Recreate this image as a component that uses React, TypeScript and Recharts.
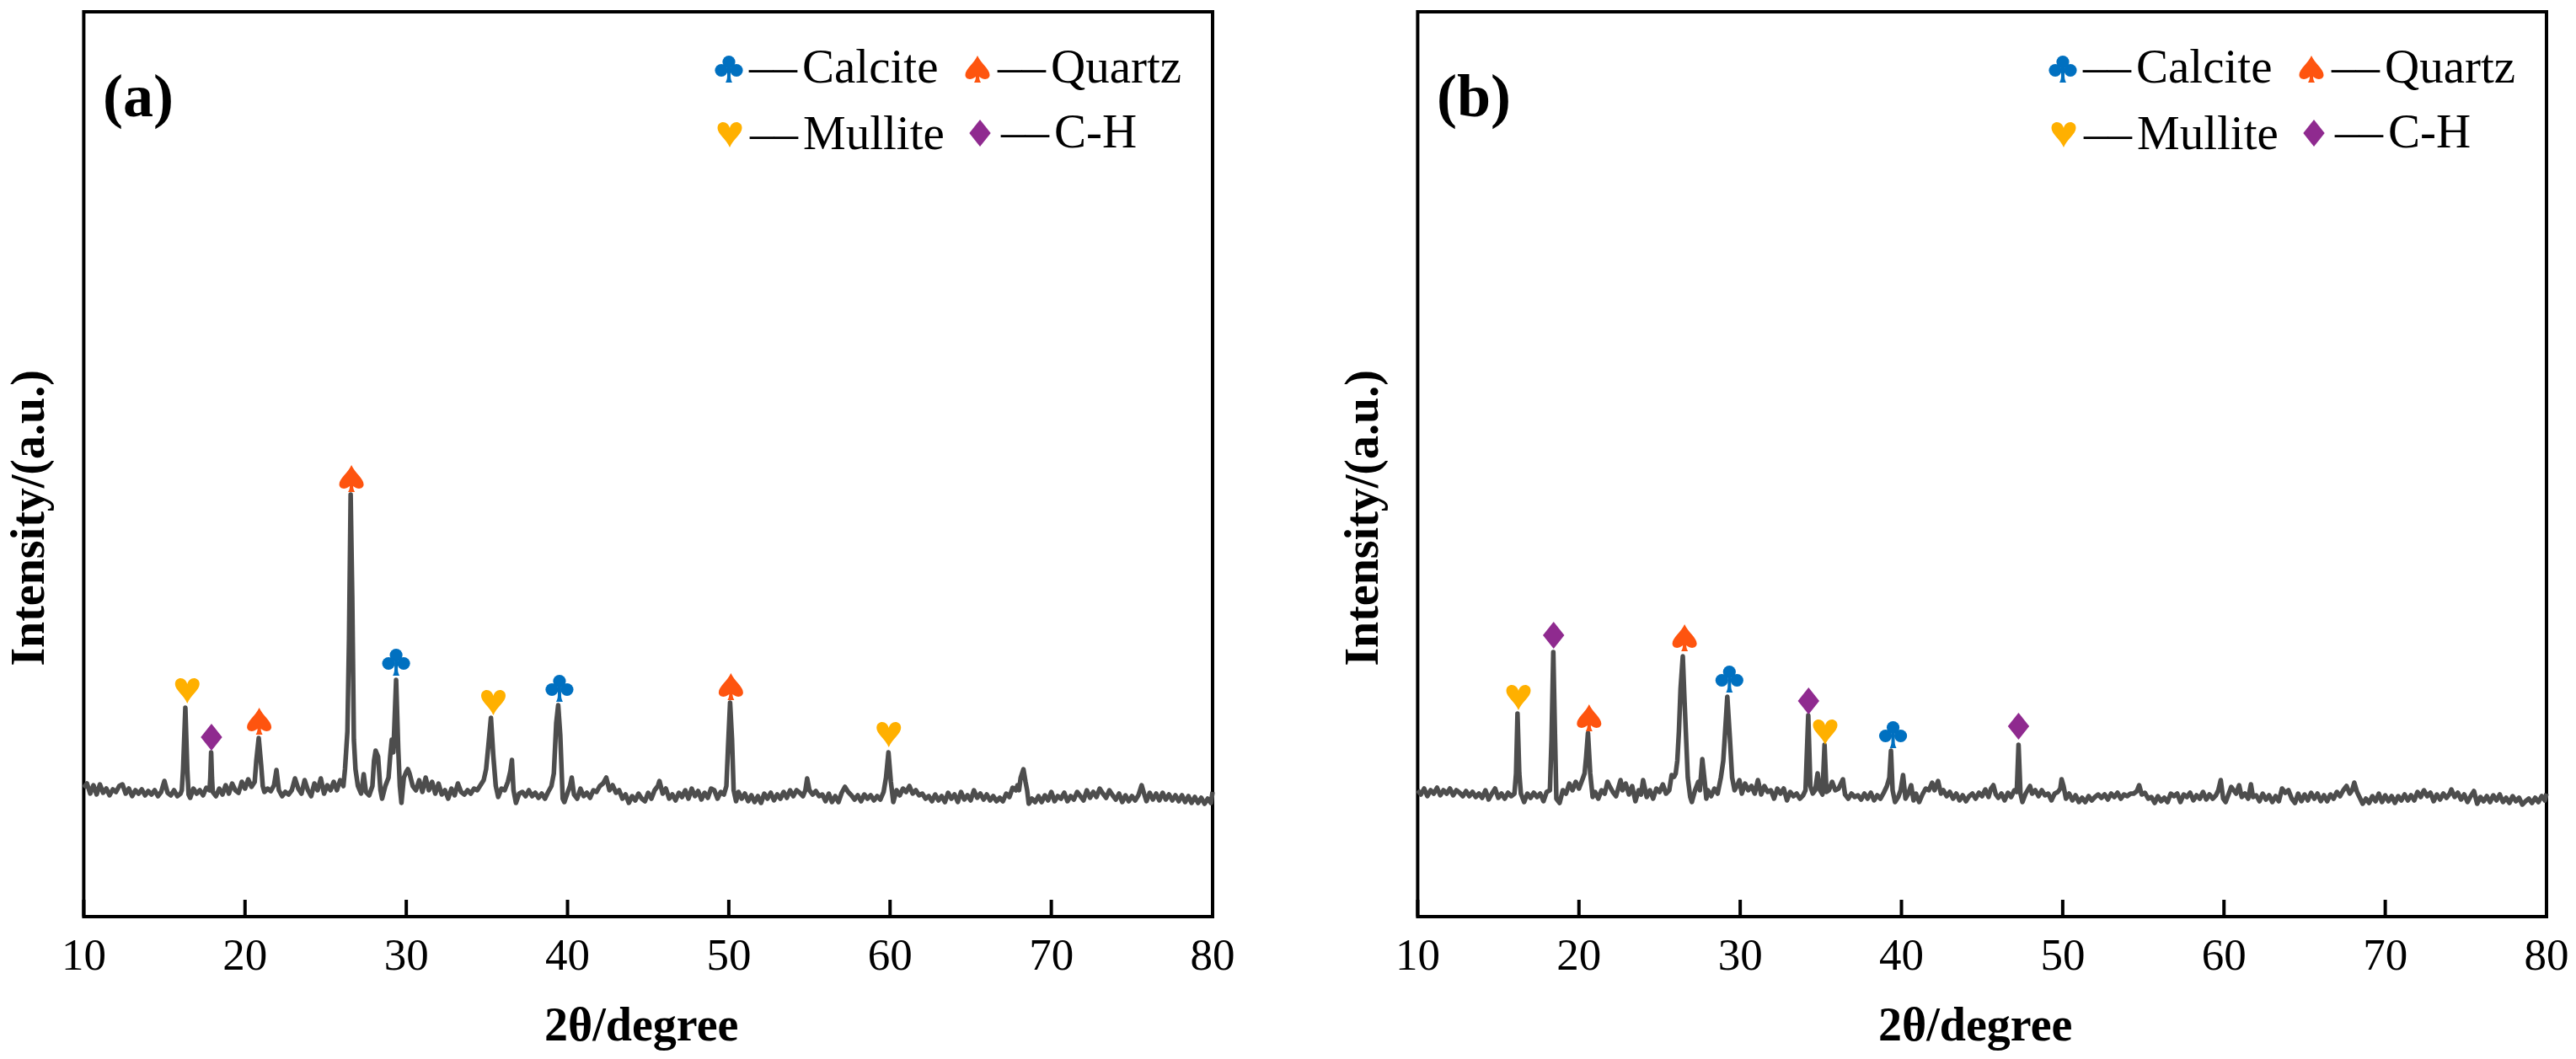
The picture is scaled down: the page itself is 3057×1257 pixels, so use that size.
import { ComposedChart, Line, ReferenceArea, Scatter, XAxis, YAxis } from 'recharts';

const thetaA = [
	10.0, 10.2, 10.4, 10.6, 10.8, 11.0, 11.2, 11.4, 11.6, 11.8,
	12.0, 12.2, 12.4, 12.6, 12.8, 13.0, 13.2, 13.4, 13.6, 13.8,
	14.0, 14.2, 14.4, 14.6, 14.8, 15.0, 15.2, 15.4, 15.6, 15.8,
	16.0, 16.08, 16.16, 16.3, 16.42, 16.5, 16.6, 16.8, 17.0, 17.2,
	17.4, 17.6, 17.8, 17.85, 17.9, 17.95, 18.0, 18.2, 18.4, 18.6,
	18.8, 19.0, 19.2, 19.4, 19.6, 19.8, 20.0, 20.2, 20.4, 20.6,
	20.7, 20.85, 21.0, 21.1, 21.2, 21.4, 21.6, 21.8, 21.95, 22.1,
	22.3, 22.5, 22.7, 22.9, 23.1, 23.3, 23.5, 23.7, 23.9, 24.1,
	24.3, 24.5, 24.7, 24.9, 25.1, 25.3, 25.5, 25.7, 25.9, 26.1,
	26.2, 26.35, 26.45, 26.55, 26.65, 26.75, 26.85, 27.0, 27.2, 27.36,
	27.5, 27.7, 27.9, 28.0, 28.1, 28.25, 28.4, 28.5, 28.7, 28.9,
	29.0, 29.1, 29.2, 29.37, 29.5, 29.6, 29.7, 29.85, 30.0, 30.1,
	30.2, 30.4, 30.6, 30.8, 31.0, 31.2, 31.4, 31.6, 31.8, 32.0,
	32.2, 32.4, 32.6, 32.8, 33.0, 33.2, 33.4, 33.6, 33.8, 34.0,
	34.2, 34.4, 34.6, 34.8, 34.95, 35.1, 35.25, 35.4, 35.55, 35.7,
	35.9, 36.1, 36.3, 36.45, 36.55, 36.65, 36.8, 37.0, 37.2, 37.4,
	37.6, 37.8, 38.0, 38.2, 38.4, 38.6, 38.8, 39.0, 39.15, 39.3,
	39.42, 39.55, 39.7, 39.8, 40.0, 40.15, 40.26, 40.4, 40.6, 40.8,
	41.0, 41.2, 41.4, 41.6, 41.8, 42.0, 42.2, 42.4, 42.6, 42.8,
	43.0, 43.2, 43.4, 43.6, 43.8, 44.0, 44.2, 44.4, 44.6, 44.8,
	45.0, 45.2, 45.4, 45.6, 45.7, 45.9, 46.1, 46.3, 46.5, 46.7,
	46.9, 47.1, 47.3, 47.5, 47.7, 47.9, 48.1, 48.3, 48.5, 48.7,
	48.9, 49.1, 49.3, 49.5, 49.7, 49.85, 49.95, 50.08, 50.2, 50.3,
	50.45, 50.6, 50.8, 51.0, 51.2, 51.4, 51.6, 51.8, 52.0, 52.2,
	52.4, 52.6, 52.8, 53.0, 53.2, 53.4, 53.6, 53.8, 54.0, 54.2,
	54.4, 54.6, 54.75, 54.86, 55.0, 55.2, 55.4, 55.6, 55.8, 56.0,
	56.2, 56.4, 56.6, 56.8, 57.0, 57.2, 57.4, 57.6, 57.8, 58.0,
	58.2, 58.4, 58.6, 58.8, 59.0, 59.2, 59.4, 59.6, 59.75, 59.9,
	60.05, 60.2, 60.4, 60.6, 60.8, 61.0, 61.2, 61.4, 61.6, 61.8,
	62.0, 62.2, 62.4, 62.6, 62.8, 63.0, 63.2, 63.4, 63.6, 63.8,
	64.0, 64.2, 64.4, 64.6, 64.8, 65.0, 65.2, 65.4, 65.6, 65.8,
	66.0, 66.2, 66.4, 66.6, 66.8, 67.0, 67.2, 67.4, 67.6, 67.8,
	67.9, 68.0, 68.1, 68.27, 68.4, 68.5, 68.6, 68.8, 69.0, 69.2,
	69.4, 69.6, 69.8, 70.0, 70.2, 70.4, 70.6, 70.8, 71.0, 71.2,
	71.4, 71.6, 71.8, 72.0, 72.2, 72.4, 72.6, 72.8, 73.0, 73.2,
	73.4, 73.6, 73.8, 74.0, 74.2, 74.4, 74.6, 74.8, 75.0, 75.2,
	75.4, 75.6, 75.75, 75.9, 76.1, 76.3, 76.5, 76.7, 76.9, 77.1,
	77.3, 77.5, 77.7, 77.9, 78.1, 78.3, 78.5, 78.7, 78.9, 79.1,
	79.3, 79.5, 79.7, 79.9, 80.0,
];
const intensityA = [
	153, 158, 146, 156, 145, 157, 147, 152, 144, 151,
	148, 155, 157, 146, 152, 143, 150, 146, 151, 144,
	149, 145, 150, 143, 148, 161, 147, 144, 150, 143,
	146, 150, 175, 248, 175, 145, 141, 152, 146, 150,
	144, 153, 150, 165, 195, 165, 148, 143, 152, 145,
	156, 146, 158, 150, 147, 160, 152, 163, 154, 160,
	185, 212, 180, 155, 148, 152, 149, 156, 174, 150,
	143, 148, 145, 150, 164, 152, 146, 162, 150, 143,
	158, 150, 164, 146, 156, 150, 160, 150, 162, 155,
	175, 220, 330, 501, 380, 210, 175, 155, 146, 169,
	148, 144, 155, 185, 197, 190, 150, 140, 155, 165,
	190, 210, 195, 281, 200, 155, 135, 165, 172, 175,
	170, 155, 150, 162, 148, 165, 150, 160, 146, 158,
	145, 150, 140, 152, 144, 158, 148, 145, 150, 146,
	152, 150, 156, 162, 175, 205, 236, 190, 155, 142,
	152, 150, 160, 172, 186, 150, 135, 146, 148, 143,
	150, 143, 147, 141, 146, 140, 148, 155, 170, 230,
	251, 215, 140, 136, 147, 155, 165, 145, 140, 152,
	143, 147, 141, 150, 148, 155, 158, 165, 150, 156,
	147, 150, 140, 145, 135, 143, 138, 146, 140, 137,
	147, 140, 150, 155, 161, 146, 152, 140, 145, 138,
	147, 142, 150, 140, 152, 143, 149, 139, 147, 141,
	152, 150, 140, 148, 145, 155, 200, 254, 210, 150,
	137, 148, 140, 146, 137, 144, 136, 143, 135, 146,
	140, 147, 138, 145, 140, 148, 141, 150, 143, 150,
	147, 143, 150, 164, 150, 145, 149, 143, 145, 137,
	146, 136, 143, 136, 147, 154, 148, 144, 139, 144,
	137, 145, 140, 144, 138, 143, 139, 148, 165, 195,
	160, 136, 150, 144, 152, 148, 155, 146, 150, 144,
	146, 140, 143, 137, 145, 138, 143, 136, 147, 140,
	145, 136, 148, 139, 144, 138, 150, 141, 146, 139,
	145, 138, 143, 137, 141, 137, 146, 142, 153, 150,
	156, 150, 165, 175, 160, 150, 134, 140, 136, 143,
	136, 144, 138, 148, 137, 143, 140, 147, 137, 143,
	139, 148, 143, 138, 150, 141, 148, 142, 152, 146,
	141, 150, 144, 139, 146, 136, 144, 137, 143, 138,
	144, 156, 146, 137, 147, 139, 146, 138, 147, 139,
	145, 138, 144, 137, 144, 136, 143, 135, 142, 135,
	141, 134, 140, 135, 148,
];

const thetaB = [
	10.0, 10.2, 10.4, 10.6, 10.8, 11.0, 11.2, 11.4, 11.6, 11.8,
	12.0, 12.2, 12.4, 12.6, 12.8, 13.0, 13.2, 13.4, 13.6, 13.8,
	14.0, 14.2, 14.4, 14.6, 14.8, 15.0, 15.2, 15.4, 15.6, 15.8,
	16.0, 16.1, 16.19, 16.3, 16.4, 16.6, 16.8, 17.0, 17.2, 17.4,
	17.6, 17.8, 18.0, 18.2, 18.3, 18.41, 18.52, 18.6, 18.8, 19.0,
	19.2, 19.4, 19.6, 19.8, 20.0, 20.2, 20.35, 20.45, 20.56, 20.7,
	20.85, 21.0, 21.2, 21.4, 21.6, 21.77, 21.9, 22.1, 22.3, 22.58,
	22.7, 22.9, 23.1, 23.3, 23.5, 23.7, 23.85, 23.98, 24.2, 24.4,
	24.6, 24.8, 25.0, 25.2, 25.4, 25.6, 25.75, 25.9, 26.0, 26.1,
	26.2, 26.3, 26.44, 26.55, 26.65, 26.75, 26.9, 27.0, 27.2, 27.4,
	27.5, 27.65, 27.8, 27.9, 28.0, 28.2, 28.4, 28.6, 28.8, 28.95,
	29.05, 29.2, 29.35, 29.5, 29.65, 29.8, 29.95, 30.1, 30.3, 30.5,
	30.7, 30.9, 31.1, 31.3, 31.5, 31.7, 31.9, 32.1, 32.3, 32.5,
	32.7, 32.9, 33.1, 33.3, 33.5, 33.7, 33.9, 34.05, 34.22, 34.35,
	34.5, 34.65, 34.8, 34.95, 35.1, 35.23, 35.35, 35.5, 35.7, 35.9,
	36.1, 36.37, 36.5, 36.7, 36.9, 37.1, 37.3, 37.5, 37.7, 37.9,
	38.1, 38.3, 38.5, 38.7, 38.9, 39.1, 39.25, 39.35, 39.45, 39.6,
	39.8, 39.95, 40.1, 40.25, 40.4, 40.6, 40.75, 40.9, 41.1, 41.3,
	41.5, 41.7, 41.9, 42.05, 42.27, 42.45, 42.6, 42.8, 43.0, 43.2,
	43.4, 43.6, 43.8, 44.0, 44.2, 44.4, 44.6, 44.8, 45.0, 45.2,
	45.4, 45.55, 45.7, 45.85, 46.0, 46.2, 46.4, 46.6, 46.8, 47.0,
	47.15, 47.26, 47.38, 47.5, 47.7, 47.97, 48.1, 48.3, 48.5, 48.7,
	48.9, 49.1, 49.3, 49.5, 49.7, 49.85, 49.93, 50.05, 50.2, 50.4,
	50.6, 50.8, 51.0, 51.2, 51.4, 51.6, 51.8, 52.0, 52.2, 52.4,
	52.6, 52.8, 53.0, 53.2, 53.4, 53.6, 53.8, 54.0, 54.2, 54.4,
	54.6, 54.74, 54.9, 55.1, 55.3, 55.5, 55.7, 55.9, 56.1, 56.3,
	56.5, 56.7, 56.9, 57.1, 57.3, 57.5, 57.7, 57.9, 58.1, 58.3,
	58.5, 58.7, 58.9, 59.1, 59.3, 59.5, 59.65, 59.8, 59.95, 60.1,
	60.3, 60.45, 60.6, 60.75, 60.94, 61.1, 61.3, 61.5, 61.67, 61.8,
	62.0, 62.2, 62.4, 62.6, 62.8, 63.0, 63.2, 63.4, 63.6, 63.8,
	64.0, 64.2, 64.4, 64.6, 64.8, 65.0, 65.2, 65.4, 65.6, 65.8,
	66.0, 66.2, 66.4, 66.6, 66.8, 67.0, 67.2, 67.4, 67.6, 67.8,
	67.95, 68.08, 68.25, 68.4, 68.6, 68.8, 69.0, 69.2, 69.4, 69.6,
	69.8, 70.0, 70.2, 70.4, 70.6, 70.8, 71.0, 71.2, 71.4, 71.6,
	71.8, 72.0, 72.2, 72.4, 72.6, 72.8, 73.0, 73.2, 73.4, 73.6,
	73.8, 74.0, 74.1, 74.3, 74.5, 74.7, 74.9, 75.1, 75.3, 75.5,
	75.7, 75.9, 76.1, 76.3, 76.5, 76.7, 76.9, 77.1, 77.3, 77.5,
	77.7, 77.9, 78.1, 78.3, 78.5, 78.7, 78.9, 79.1, 79.3, 79.5,
	79.7, 79.9, 80.0,
];
const intensityB = [
	150, 145, 152, 143, 150, 146, 153, 144, 150, 146,
	152, 144, 150, 147, 143, 149, 143, 148, 142, 146,
	141, 150, 139, 146, 152, 141, 146, 140, 147, 143,
	146, 170, 241, 170, 146, 136, 146, 141, 147, 142,
	146, 137, 148, 150, 210, 314, 210, 140, 135, 150,
	146, 158, 150, 160, 152, 162, 170, 190, 218, 170,
	142, 148, 140, 150, 146, 160, 155, 148, 143, 162,
	150, 158, 145, 155, 137, 150, 145, 162, 142, 150,
	140, 152, 148, 157, 146, 150, 168, 166, 170, 185,
	220, 270, 309, 255, 210, 165, 142, 136, 150, 160,
	150, 187, 160, 140, 150, 143, 152, 146, 165, 185,
	215, 261, 215, 165, 150, 155, 162, 146, 158, 150,
	155, 146, 162, 145, 155, 148, 150, 140, 152, 146,
	152, 138, 148, 143, 146, 140, 144, 150, 239, 155,
	146, 150, 170, 150, 145, 204, 148, 150, 160, 150,
	152, 163, 145, 140, 146, 142, 144, 139, 146, 140,
	147, 138, 144, 140, 147, 155, 165, 197, 150, 136,
	142, 150, 168, 140, 145, 156, 138, 146, 136, 145,
	152, 150, 159, 150, 161, 146, 150, 143, 148, 140,
	146, 138, 144, 137, 143, 146, 140, 147, 143, 151,
	142, 152, 156, 145, 141, 146, 138, 147, 142, 150,
	148, 204, 146, 136, 146, 155, 146, 150, 143, 150,
	144, 146, 138, 146, 148, 152, 163, 155, 140, 146,
	138, 144, 136, 141, 136, 143, 138, 142, 145, 141,
	145, 139, 146, 142, 147, 140, 145, 143, 146, 146,
	149, 156, 145, 147, 140, 142, 135, 143, 137, 141,
	136, 146, 143, 146, 136, 145, 142, 147, 138, 144,
	140, 148, 139, 145, 140, 144, 150, 162, 140, 136,
	146, 154, 150, 146, 156, 142, 146, 140, 157, 142,
	144, 137, 146, 139, 144, 136, 143, 137, 152, 147,
	150, 140, 135, 146, 137, 145, 138, 147, 140, 146,
	137, 144, 137, 145, 140, 148, 143, 150, 155, 146,
	150, 159, 148, 142, 134, 140, 135, 143, 137, 146,
	136, 144, 137, 143, 135, 143, 138, 145, 138, 144,
	138, 148, 142, 150, 143, 147, 137, 145, 139, 146,
	141, 146, 151, 142, 147, 139, 145, 136, 143, 149,
	134, 142, 137, 143, 136, 144, 138, 145, 136, 141,
	135, 143, 137, 141, 133, 137, 140, 135, 141, 136,
	143, 138, 146,
];

// phase markers sitting above the peaks
const markersA = [
	{ kind: 'heart', theta: 16.42, intensity: 268 },
	{ kind: 'diamond', theta: 17.92, intensity: 213 },
	{ kind: 'spade', theta: 20.88, intensity: 232 },
	{ kind: 'spade', theta: 26.6, intensity: 520 },
	{ kind: 'club', theta: 29.37, intensity: 302 },
	{ kind: 'heart', theta: 35.4, intensity: 254 },
	{ kind: 'club', theta: 39.5, intensity: 271 },
	{ kind: 'spade', theta: 50.13, intensity: 273 },
	{ kind: 'heart', theta: 59.92, intensity: 216 },
];
const markersB = [
	{ kind: 'heart', theta: 16.25, intensity: 260 },
	{ kind: 'diamond', theta: 18.43, intensity: 334 },
	{ kind: 'spade', theta: 20.63, intensity: 236 },
	{ kind: 'spade', theta: 26.55, intensity: 331 },
	{ kind: 'club', theta: 29.33, intensity: 282 },
	{ kind: 'diamond', theta: 34.24, intensity: 256 },
	{ kind: 'heart', theta: 35.27, intensity: 219 },
	{ kind: 'club', theta: 39.48, intensity: 216 },
	{ kind: 'diamond', theta: 47.26, intensity: 226 },
];

const xTicks = [10, 20, 30, 40, 50, 60, 70, 80];
const legendItems = [
	{ kind: 'club', label: 'Calcite', iconX: 865, iconY: 82, textX: 889, textY: 98 },
	{ kind: 'spade', label: 'Quartz', iconX: 1160, iconY: 82, textX: 1184, textY: 98 },
	{ kind: 'heart', label: 'Mullite', iconX: 866, iconY: 160, textX: 890, textY: 177 },
	{ kind: 'diamond', label: 'C-H', iconX: 1163, iconY: 158, textX: 1188, textY: 175 },
];

const serif = '"Liberation Serif", serif';
const colors = { club: '#0070c0', spade: '#fe540f', heart: '#ffb000', diamond: '#8f2a8f' };

const Suit = ({ kind, x, y }: { kind: string; x: number; y: number }) => {
	const move = `translate(${x},${y})`;
	if (kind === 'club') {
		return (
			<g transform={move} fill={colors.club}>
				<circle cx={0} cy={-8.5} r={7.6} />
				<circle cx={-9} cy={1.5} r={7.6} />
				<circle cx={9} cy={1.5} r={7.6} />
				<path d='M-2,-4 L2,-4 L2,8 C2,12 3,14 4,16 L-4,16 C-3,14 -2,12 -2,8 Z' />
			</g>
		);
	}
	if (kind === 'spade') {
		return (
			<path
				transform={move}
				fill={colors.spade}
				d='M0,-16 C4,-7 14.5,0 14.5,7 C14.5,12 8,14 2,9 C2,12 3,14 4,16 L-4,16 C-3,14 -2,12 -2,9 C-8,14 -14.5,12 -14.5,7 C-14.5,0 -4,-7 0,-16 Z'
			/>
		);
	}
	if (kind === 'heart') {
		return (
			<path
				transform={move}
				fill={colors.heart}
				d='M0,15 C-4,5 -14.5,-1 -14.5,-8 C-14.5,-13 -11,-15 -8,-15 C-4,-15 -1,-12 0,-8 C1,-12 4,-15 8,-15 C11,-15 14.5,-13 14.5,-8 C14.5,-1 4,5 0,15 Z'
			/>
		);
	}
	return <path transform={move} fill={colors.diamond} d='M0,-16 L12.7,0 L0,16 L-12.7,0 Z' />;
};

const SuitPoint = (props: any) => <Suit kind={props.payload.kind} x={props.cx} y={props.cy} />;

type PanelProps = {
	name: string;
	left: number;
	theta: number[];
	intensity: number[];
	markers: { kind: string; theta: number; intensity: number }[];
};

const Panel = ({ name, left, theta, intensity, markers }: PanelProps) => {
	const data = theta.map((t, i) => ({ theta: t, intensity: intensity[i] }));
	return (
		<div style={{ position: 'absolute', left, top: 0 }}>
			<ComposedChart
				width={1474}
				height={1257}
				data={data}
				margin={{ top: 14, right: 35, left: 0, bottom: 0 }}
			>
				<XAxis
					type='number'
					dataKey='theta'
					domain={[10, 80]}
					ticks={xTicks}
					height={169}
					tickSize={-20}
					tickMargin={45}
					axisLine={false}
					tickLine={{ stroke: '#000', strokeWidth: 4 }}
					tick={{ fontSize: 53, fontFamily: serif, fill: '#000' }}
					interval={0}
					label={{
						value: '2θ/degree',
						position: 'insideBottom',
						offset: 22,
						dx: -8,
						style: { fontSize: 56, fontFamily: serif, fontWeight: 'bold', fill: '#000' },
					}}
				/>
				<YAxis
					type='number'
					dataKey='intensity'
					domain={[0, 1074]}
					width={99.4}
					tick={false}
					tickLine={false}
					axisLine={false}
					label={{
						value: 'Intensity/(a.u.)',
						angle: -90,
						position: 'insideLeft',
						offset: 32,
						dy: 64,
						style: { fontSize: 56, fontFamily: serif, fontWeight: 'bold', fill: '#000', textAnchor: 'middle' },
					}}
				/>
				<Line
					dataKey='intensity'
					type='linear'
					stroke='#4d4d4d'
					strokeWidth={5.5}
					strokeLinejoin='round'
					dot={false}
					isAnimationActive={false}
				/>
				<Scatter data={markers} shape={SuitPoint} isAnimationActive={false} />
				<ReferenceArea
					x1={10}
					x2={80}
					y1={0}
					y2={1074}
					fill='none'
					stroke='#000'
					strokeWidth={4}
					fillOpacity={0}
					ifOverflow='visible'
				/>
				<text x={122} y={138} fontSize={72} fontFamily={serif} fontWeight='bold' fill='#000'>
					{name}
				</text>
				{legendItems.map((item) => (
					<g key={item.kind}>
						<Suit kind={item.kind} x={item.iconX} y={item.iconY} />
						<text x={item.textX} y={item.textY} fontSize={57} fontFamily={serif} fill='#000'>
							<tspan>––</tspan>
							<tspan dx={6}>{item.label}</tspan>
						</text>
					</g>
				))}
			</ComposedChart>
		</div>
	);
};

const App = () => {
	return (
		<div style={{ position: 'absolute', left: 0, top: 0, width: 3057, height: 1257, background: '#fff' }}>
			<Panel name='(a)' left={0} theta={thetaA} intensity={intensityA} markers={markersA} />
			<Panel name='(b)' left={1583} theta={thetaB} intensity={intensityB} markers={markersB} />
		</div>
	);
};

export default App;
